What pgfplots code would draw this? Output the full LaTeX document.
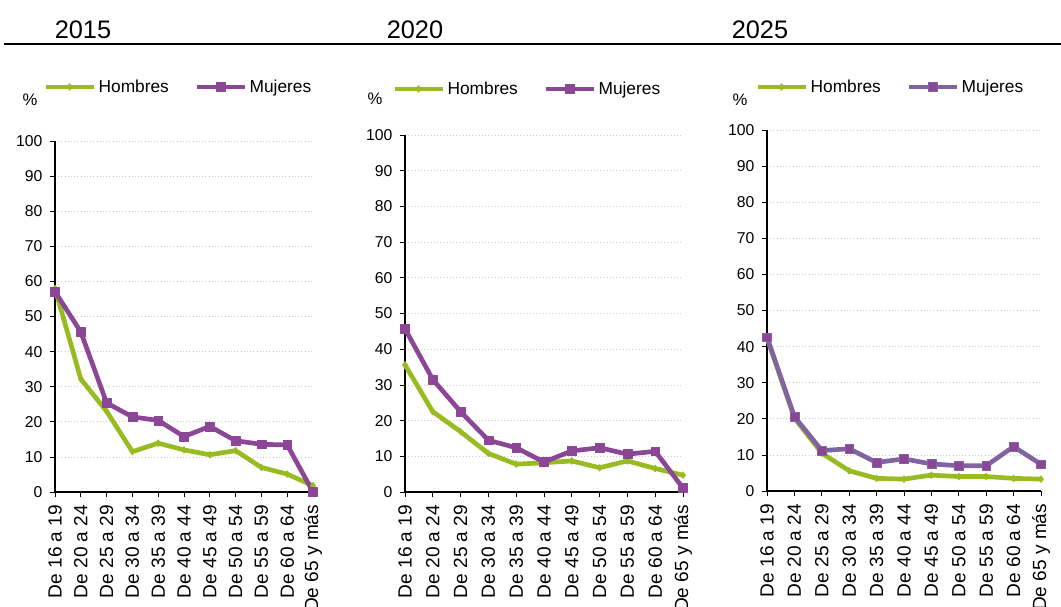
\documentclass[border=0pt]{standalone}
\usepackage{pgfplots}
\pgfplotsset{compat=1.18}
\usepackage{fontspec}
\setmainfont{Liberation Sans}
\definecolor{verde}{RGB}{153,187,34}
\definecolor{morado}{RGB}{140,70,150}
\definecolor{lila}{RGB}{128,100,162}

\pgfplotsset{
  panel/.style={
    scale only axis,
    axis lines=left,
    axis line style={-, line width=0.8pt},
    xmin=0, xmax=10, ymin=0, ymax=100,
    xtick={0,...,10},
    xticklabels={De 16 a 19,De 20 a 24,De 25 a 29,De 30 a 34,De 35 a 39,De 40 a 44,De 45 a 49,De 50 a 54,De 55 a 59,De 60 a 64,De 65 y más},
    ytick={0,10,...,100},
    tick align=outside,
    major tick length=4pt,
    tick style={black, line width=0.5pt},
    ymajorgrids,
    grid style={gray!40, dotted, line width=0.6pt},
    x tick label style={rotate=90, anchor=east, font=\fontsize{14.3}{16}\selectfont, inner sep=1pt, xshift=-4.5pt},
    y tick label style={font=\fontsize{11.8}{13}\selectfont, xshift=-2pt},
    /pgf/number format/assume math mode=true,
    clip=false,
    legend columns=2,
    legend cell align=left,
    legend style={draw=none, fill=none, inner sep=0pt, anchor=west,
      font=\fontsize{13}{15}\selectfont,
      /tikz/every even column/.append style={column sep=17pt}},
    legend image code/.code={
      \draw[mark repeat=2, mark phase=2] plot coordinates {(0pt,0pt) (18pt,0pt) (36pt,0pt)};},
  },
  hom/.style={color=verde, line width=3.5pt, line join=round, mark=diamond*,
    mark size=2.6pt, mark options={solid, line width=0.4pt, fill=verde}},
  muj/.style={color=morado, line width=3.5pt, line join=round, mark=square*,
    mark size=3.3pt, mark options={solid, line width=0.4pt, fill=morado}},
}

\begin{document}
\begin{tikzpicture}
\useasboundingbox (0,0) rectangle (795.75pt,-455.25pt);

\begin{scope}[x=0.75pt, y=-0.75pt]
  \draw[line width=2pt] (4,44) -- (1061,44);
  \node[anchor=base, font=\fontsize{19}{22}\selectfont, inner sep=0pt] at (83,38) {2015};
  \node[anchor=base, font=\fontsize{19}{22}\selectfont, inner sep=0pt] at (415,38) {2020};
  \node[anchor=base, font=\fontsize{19}{22}\selectfont, inner sep=0pt] at (760,38) {2025};
\end{scope}

% 2015
\begin{axis}[panel, at={(41.25pt,-369pt)}, anchor=south west,
  width=193.5pt, height=263.25pt,
  legend style={at={(rel axis cs:-0.0465,1.154)}}]
  \addplot[hom] coordinates {(0,58) (1,32.2) (2,23.0) (3,11.5) (4,13.9) (5,12.0) (6,10.6) (7,11.8) (8,7.0) (9,5.1) (10,1.8)};
  \addplot[muj] coordinates {(0,57.1) (1,45.6) (2,25.4) (3,21.4) (4,20.4) (5,15.8) (6,18.7) (7,14.6) (8,13.6) (9,13.4) (10,0)};
  \legend{Hombres,Mujeres}
  \node[font=\fontsize{12.5}{14}\selectfont] at (rel axis cs:-0.097,1.117) {\%};
\end{axis}

% 2020
\begin{axis}[panel, at={(303.75pt,-369pt)}, anchor=south west,
  width=208.5pt, height=267.75pt,
  legend style={at={(rel axis cs:-0.0468,1.129)}}]
  \addplot[hom] coordinates {(0,35.6) (1,22.5) (2,16.9) (3,10.8) (4,7.8) (5,8.2) (6,8.7) (7,6.8) (8,8.7) (9,6.6) (10,4.7)};
  \addplot[muj] coordinates {(0,45.7) (1,31.5) (2,22.5) (3,14.5) (4,12.4) (5,8.4) (6,11.5) (7,12.4) (8,10.6) (9,11.4) (10,1.1)};
  \legend{Hombres,Mujeres}
  \node[font=\fontsize{12.5}{14}\selectfont] at (rel axis cs:-0.108,1.101) {\%};
\end{axis}

% 2025
\begin{axis}[panel, at={(575.25pt,-368.25pt)}, anchor=south west,
  width=205.5pt, height=270.75pt,
  legend style={at={(rel axis cs:-0.0438,1.119)}}]
  \addplot[hom] coordinates {(0,42.4) (1,20.2) (2,10.5) (3,5.6) (4,3.5) (5,3.3) (6,4.4) (7,4.0) (8,4.0) (9,3.5) (10,3.3)};
  \addplot[muj, color=lila] coordinates {(0,42.6) (1,20.6) (2,11.2) (3,11.7) (4,7.9) (5,8.9) (6,7.5) (7,7.0) (8,7.0) (9,12.3) (10,7.4)};
  \legend{Hombres,Mujeres}
  \node[font=\fontsize{12.5}{14}\selectfont] at (rel axis cs:-0.0985,1.083) {\%};
\end{axis}
\end{tikzpicture}
\end{document}
